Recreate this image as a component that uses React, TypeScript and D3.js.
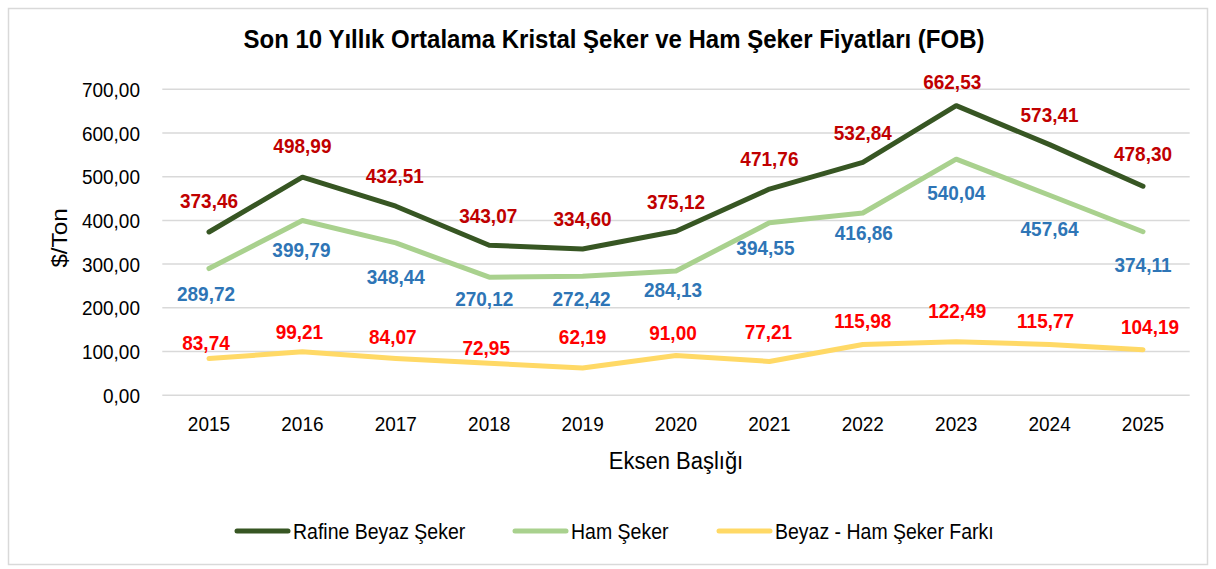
import React, { useEffect, useRef } from 'react';
import * as d3 from 'd3';

const years = ['2015', '2016', '2017', '2018', '2019', '2020', '2021', '2022', '2023', '2024', '2025'];
const rafine = [373.46, 498.99, 432.51, 343.07, 334.6, 375.12, 471.76, 532.84, 662.53, 573.41, 478.3];
const ham = [289.72, 399.79, 348.44, 270.12, 272.42, 284.13, 394.55, 416.86, 540.04, 457.64, 374.11];
const fark = [83.74, 99.21, 84.07, 72.95, 62.19, 91.0, 77.21, 115.98, 122.49, 115.77, 104.19];
const yTicks = [0, 100, 200, 300, 400, 500, 600, 700];

// hand-placed data label offsets (px from the point), like in the original sheet
const rafineDx = [0, 0, -1, -1, 0, 0, 0, 0, -4, 0, 0];
const rafineDy = [-32, -32, -31, -30, -31, -30, -31, -30, -24, -30, -33];
const hamDx = [-3, -1, 0, -5, -1, -3, -4, 1, 0, 0, 0];
const hamDy = [25, 29, 34, 21, 22, 18, 25, 19, 33, 33, 33];
const farkDx = [-3, -3, -3, -3, 0, -3, -1, 0, 1, -4, 7];
const farkDy = [-16, -20, -22, -16, -32, -23, -30, -24, -31, -24, -23];

const W = 1216;
const H = 569;
const FONT = '"Liberation Sans", Arial, sans-serif';
const K = 1.1; // the picture is a bit taller than wide

const locale = d3.formatLocale({ decimal: ',', thousands: '.', grouping: [3], currency: ['', ''] });
const fmt = locale.format('.2f');

export default function App() {
  const ref = useRef<SVGSVGElement>(null);

  useEffect(() => {
    if (!ref.current) return;
    const svg = d3.select(ref.current);
    svg.selectAll('*').remove();

    const x = d3.scaleBand().domain(years).range([162.3, 1189.7]);
    const cx = (d: string) => (x(d) as number) + x.bandwidth() / 2;
    const y = d3.scaleLinear().domain([0, 700]).range([395.2, 89.3]);

    const txt = (g: any, tx: number, ty: number, s: string, size: number, opts: any = {}) =>
      g.append('text')
        .attr('transform', `translate(${tx},${ty}) scale(1,${K})${opts.rotate ? ' rotate(-90)' : ''}`)
        .attr('dy', opts.dy ?? '0.36em')
        .attr('text-anchor', opts.anchor ?? 'middle')
        .attr('font-family', FONT)
        .attr('font-size', size)
        .attr('font-weight', opts.bold ? 700 : 400)
        .attr('fill', opts.fill ?? '#000')
        .text(s);

    // chart frame
    svg.append('rect')
      .attr('x', 8.5).attr('y', 8.5)
      .attr('width', 1199).attr('height', 556)
      .attr('fill', '#fff')
      .attr('stroke', '#d9d9d9')
      .attr('stroke-width', 1.5);

    // title
    txt(svg, 614, 38, 'Son 10 Yıllık Ortalama Kristal Şeker ve Ham Şeker Fiyatları (FOB)', 24, { bold: true });

    // gridlines + y labels
    yTicks.forEach((t) => {
      svg.append('line')
        .attr('x1', 162.3).attr('x2', 1189.7)
        .attr('y1', y(t)).attr('y2', y(t))
        .attr('stroke', '#d9d9d9')
        .attr('stroke-width', 1.5);
      txt(svg, 140, y(t), fmt(t), 19, { anchor: 'end' });
    });

    // x labels
    years.forEach((yr) => txt(svg, cx(yr), 423, yr, 19));

    // axis titles
    txt(svg, 676, 460, 'Eksen Başlığı', 22);
    txt(svg, 59, 238, '$/Ton', 22, { rotate: true });

    const series = [
      { vals: fark, color: '#FFD966', label: '#FF0000', dx: farkDx, dy: farkDy },
      { vals: ham, color: '#A9D18E', label: '#2E75B6', dx: hamDx, dy: hamDy },
      { vals: rafine, color: '#375623', label: '#C00000', dx: rafineDx, dy: rafineDy },
    ];

    const line = d3.line<number>()
      .x((_, i) => cx(years[i]))
      .y((d) => y(d));

    series.forEach((s) => {
      svg.append('path')
        .attr('d', line(s.vals))
        .attr('fill', 'none')
        .attr('stroke', s.color)
        .attr('stroke-width', 5)
        .attr('stroke-linejoin', 'round')
        .attr('stroke-linecap', 'round');
    });

    series.forEach((s) => {
      s.vals.forEach((v, i) => {
        txt(svg, cx(years[i]) + s.dx[i], y(v) + s.dy[i], fmt(v), 19, { bold: true, fill: s.label });
      });
    });

    // legend
    const legend = [
      { name: 'Rafine Beyaz Şeker', color: '#375623', x: 235 },
      { name: 'Ham Şeker', color: '#A9D18E', x: 513 },
      { name: 'Beyaz - Ham Şeker Farkı', color: '#FFD966', x: 717 },
    ];
    legend.forEach((l) => {
      svg.append('line')
        .attr('x1', l.x + 2).attr('x2', l.x + 53)
        .attr('y1', 531).attr('y2', 531)
        .attr('stroke', l.color)
        .attr('stroke-width', 5)
        .attr('stroke-linecap', 'round');
      txt(svg, l.x + 58, 531, l.name, 19.5, { anchor: 'start' });
    });
  }, []);

  return (
    <div style={{ position: 'absolute', left: 0, top: 0 }}>
      <svg ref={ref} width={W} height={H} viewBox={`0 0 ${W} ${H}`} style={{ display: 'block' }} />
    </div>
  );
}
